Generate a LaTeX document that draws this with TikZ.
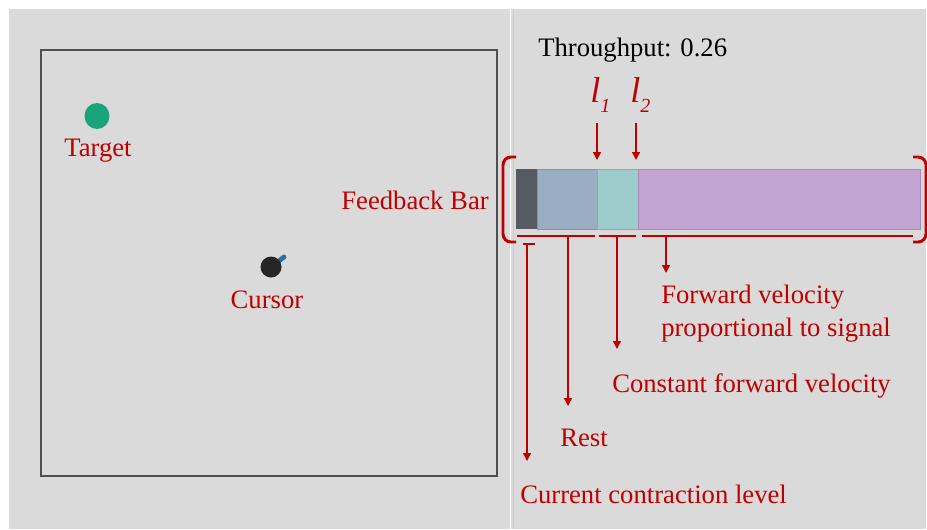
\documentclass[tikz,border=0pt]{standalone}
\usepackage{fontspec}
\setmainfont{LiberationSerif}[
  Extension=.ttf,
  UprightFont=*-Regular,
  ItalicFont=*-Italic,
  BoldFont=*-Bold]
\usetikzlibrary{arrows.meta}
\definecolor{panel}{HTML}{DADADA}
\definecolor{note}{HTML}{C00000}
\definecolor{frame}{HTML}{4F4F4F}
\definecolor{tgt}{HTML}{1BA37A}
\definecolor{pen}{HTML}{2F6EA0}
\definecolor{segA}{HTML}{555A63}
\definecolor{segB}{HTML}{9AAEC2}
\definecolor{segC}{HTML}{9ECBCB}
\definecolor{segD}{HTML}{C4A4D2}

\begin{document}
\begin{tikzpicture}[%
    x=0.75pt, y=-0.75pt,                  % work in screen pixels, y downwards
    >={Triangle[length=6pt,width=6pt]}    % filled heads for the pointers
    ]
% -------------------------------------------------
% Styles
\tikzset{
  lbl/.style={anchor=base west, inner sep=0pt, text=note,
    font=\fontsize{20}{24.75}\selectfont},
  ptr/.style={->, draw=note, fill=note, line width=1.1pt},
  rule/.style={draw=note, line width=1.1pt},
  brace/.style={draw=note, line width=2.2pt, rounded corners=6pt},
  seg/.style={draw=#1!85!black, line width=0.4pt, fill=#1},
  lvl/.style={inner sep=0pt, text=note, anchor=base west,
    font=\fontsize{27}{30}\selectfont\itshape}
}
\newcommand{\lvlsub}[1]{\raisebox{-7.5pt}{\fontsize{15}{18}\selectfont #1}}

% -------------------------------------------------
% Background and panels
\useasboundingbox (0,0) rectangle (927,529);
\fill[white] (0,0) rectangle (927,529);
\fill[panel] (9,9) rectangle (926,529);
\draw[white, line width=1.2pt] (510.5,9) -- (510.5,529);
\draw[black!20, line width=0.6pt] (513.5,9) -- (513.5,529);

% -------------------------------------------------
% Left panel: workspace with target and cursor
\draw[frame, line width=1.6pt] (41,50) rectangle (497,476);
\fill[tgt] (97,116) ellipse [x radius=12.5, y radius=13] node (target) {};
\node[lbl, anchor=base] (tlbl) at (98,156) {Target};

\draw[pen, line width=3.6pt, line cap=round] (275,264) -- (284,257);
\fill[black!85] (271,267) circle [radius=10.5] coordinate (cursor);
\node[lbl, anchor=base] (clbl) at (267,308) {Cursor};

% -------------------------------------------------
% Right panel: feedback bar
\node[lbl, text=black] (tput) at (538,56) {Throughput: 0.26};

\fill[segA] (516,169) rectangle (537,229);
\path[seg=segB] (537,169) rectangle (597,229);
\path[seg=segC] (597,169) rectangle (638,229);
\path[seg=segD] (638,169) rectangle (920,229);
\node[lbl, anchor=base east] (fbar) at (489,209) {Feedback Bar};

% brackets round the bar
\draw[brace] (516,157) -- (503,157) -- (503,242) -- (516,242);
\draw[brace] (913,157) -- (926,157) -- (926,242) -- (913,242);

% threshold marks
\node[lvl] (l1) at (590,102) {l\lvlsub{1}};
\node[lvl] (l2) at (630,102) {l\lvlsub{2}};
\coordinate (l1-top) at (597,123);
\coordinate (l1-tip) at (597,160);
\coordinate (l2-top) at (636,123);
\coordinate (l2-tip) at (636,160);
\draw[ptr] (l1-top) -- (l1-tip);
\draw[ptr] (l2-top) -- (l2-tip);

% -------------------------------------------------
% Ranges under the bar
\draw[rule] (517,236) -- (595,236);
\draw[rule] (599,236) -- (636,236);
\draw[rule] (642,236) -- (913,236);
\draw[rule] (523,244) -- (535,244);

\coordinate (cur-foot) at (527,244);
\coordinate (cur-tip)  at (527,461);
\coordinate (rest-foot) at (568,236);
\coordinate (rest-tip)  at (568,406);
\coordinate (const-foot) at (617,236);
\coordinate (const-tip)  at (617,349);
\coordinate (fwd-foot) at (666,236);
\coordinate (fwd-tip)  at (666,273);

\draw[ptr] (cur-foot) -- (cur-tip);
\draw[ptr] (rest-foot) -- (rest-tip);
\draw[ptr] (const-foot) -- (const-tip);
\draw[ptr] (fwd-foot) -- (fwd-tip);

\node[lbl, anchor=north west, align=left] (fwd) at (661,284.5)
  {Forward velocity\\proportional to signal};
\node[lbl] (const) at (612,392) {Constant forward velocity};
\node[lbl] (rest) at (560,446) {Rest};
\node[lbl] (cur) at (520,503) {Current contraction level};
\end{tikzpicture}
\end{document}
